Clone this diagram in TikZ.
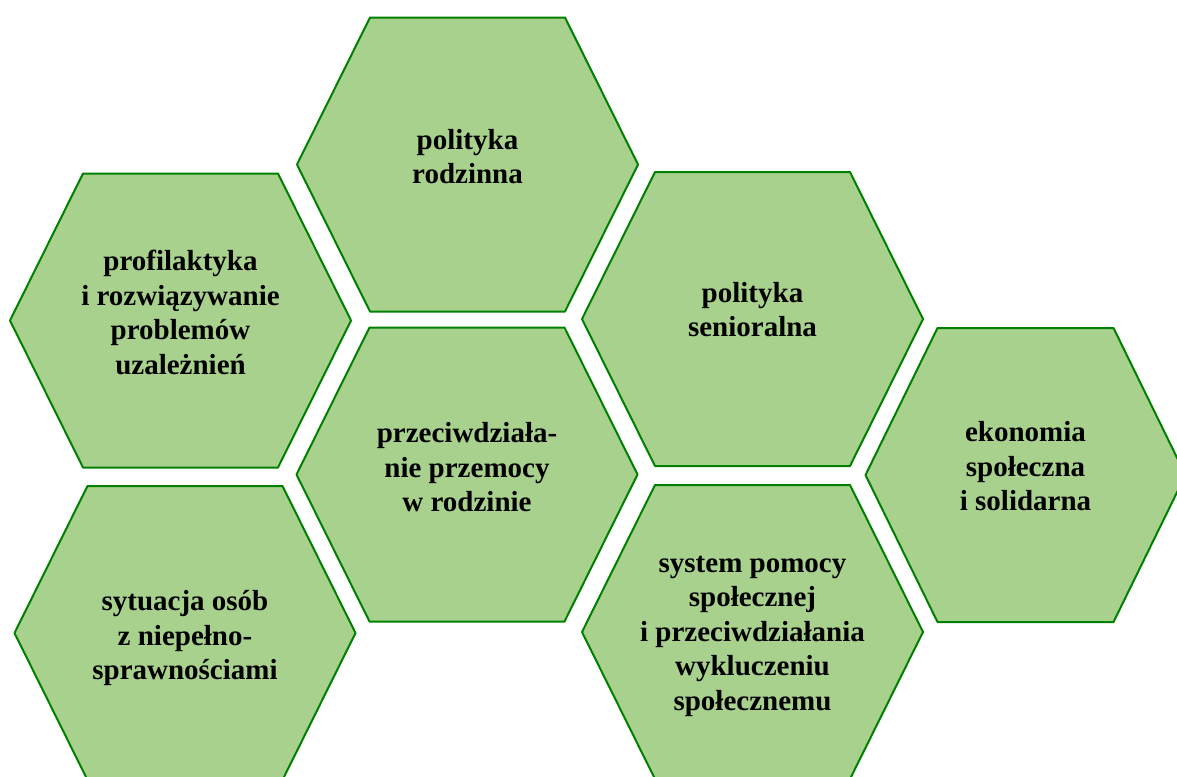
\documentclass[tikz,border=0pt]{standalone}
\usepackage{fontspec}
\setmainfont{Liberation Serif}
\definecolor{hexfill}{RGB}{169,209,142}
\definecolor{hexdraw}{RGB}{0,128,0}

\begin{document}
\begin{tikzpicture}[line cap=round,line join=round,x=0.75pt,y=-0.75pt,
		hexline/.style={line width=1.5pt,draw=hexdraw,fill=hexfill},
		hexlabel/.style={align=center,inner sep=0pt,font=\fontsize{21.75}{25.9}\selectfont\bfseries}]
		\useasboundingbox (0,0) rectangle (1177,776);
		\clip (0,0) rectangle (1177,776);
		\draw [hexline] (297,164.5)-- (370,17.5)-- (565,17.5)-- (638,164.5)-- (565,311.5)-- (370,311.5)-- cycle;
		\draw [hexline] (10,320.5)-- (83,173.5)-- (278,173.5)-- (351,320.5)-- (278,467.5)-- (83,467.5)-- cycle;
		\draw [hexline] (296.5,474.5)-- (369.5,327.5)-- (564.5,327.5)-- (637.5,474.5)-- (564.5,621.5)-- (369.5,621.5)-- cycle;
		\draw [hexline] (14.5,633)-- (87.5,486)-- (282.5,486)-- (355.5,633)-- (282.5,780)-- (87.5,780)-- cycle;
		\draw [hexline] (582,319)-- (655,172)-- (850,172)-- (923,319)-- (850,466)-- (655,466)-- cycle;
		\draw [hexline] (582,632)-- (655,485)-- (850,485)-- (923,632)-- (850,779)-- (655,779)-- cycle;
		\draw [hexline] (865.5,475)-- (937.5,328)-- (1113.5,328)-- (1185.5,475)-- (1113.5,622)-- (937.5,622)-- cycle;
		\node[hexlabel] (rodzinna) at (467.5,156.5) {polityka\\rodzinna};
		\node[hexlabel] (uzaleznienia) at (180.5,312.5) {profilaktyka\\i rozwiązywanie\\problemów\\uzależnień};
		\node[hexlabel] (przemoc) at (467,467.5) {przeciwdziała-\\nie przemocy\\w rodzinie};
		\node[hexlabel] (niepelnosprawnosc) at (185,638) {sytuacja osób\\z niepełno-\\sprawnościami};
		\node[hexlabel] (seniorzy) at (752.5,309.5) {polityka\\senioralna};
		\node[hexlabel] (pomoc) at (752.5,636) {system pomocy\\społecznej\\i przeciwdziałania\\wykluczeniu\\społecznemu};
		\node[hexlabel] (ekonomia) at (1025.5,466.5) {ekonomia\\społeczna\\i solidarna};
	\end{tikzpicture}
\end{document}
